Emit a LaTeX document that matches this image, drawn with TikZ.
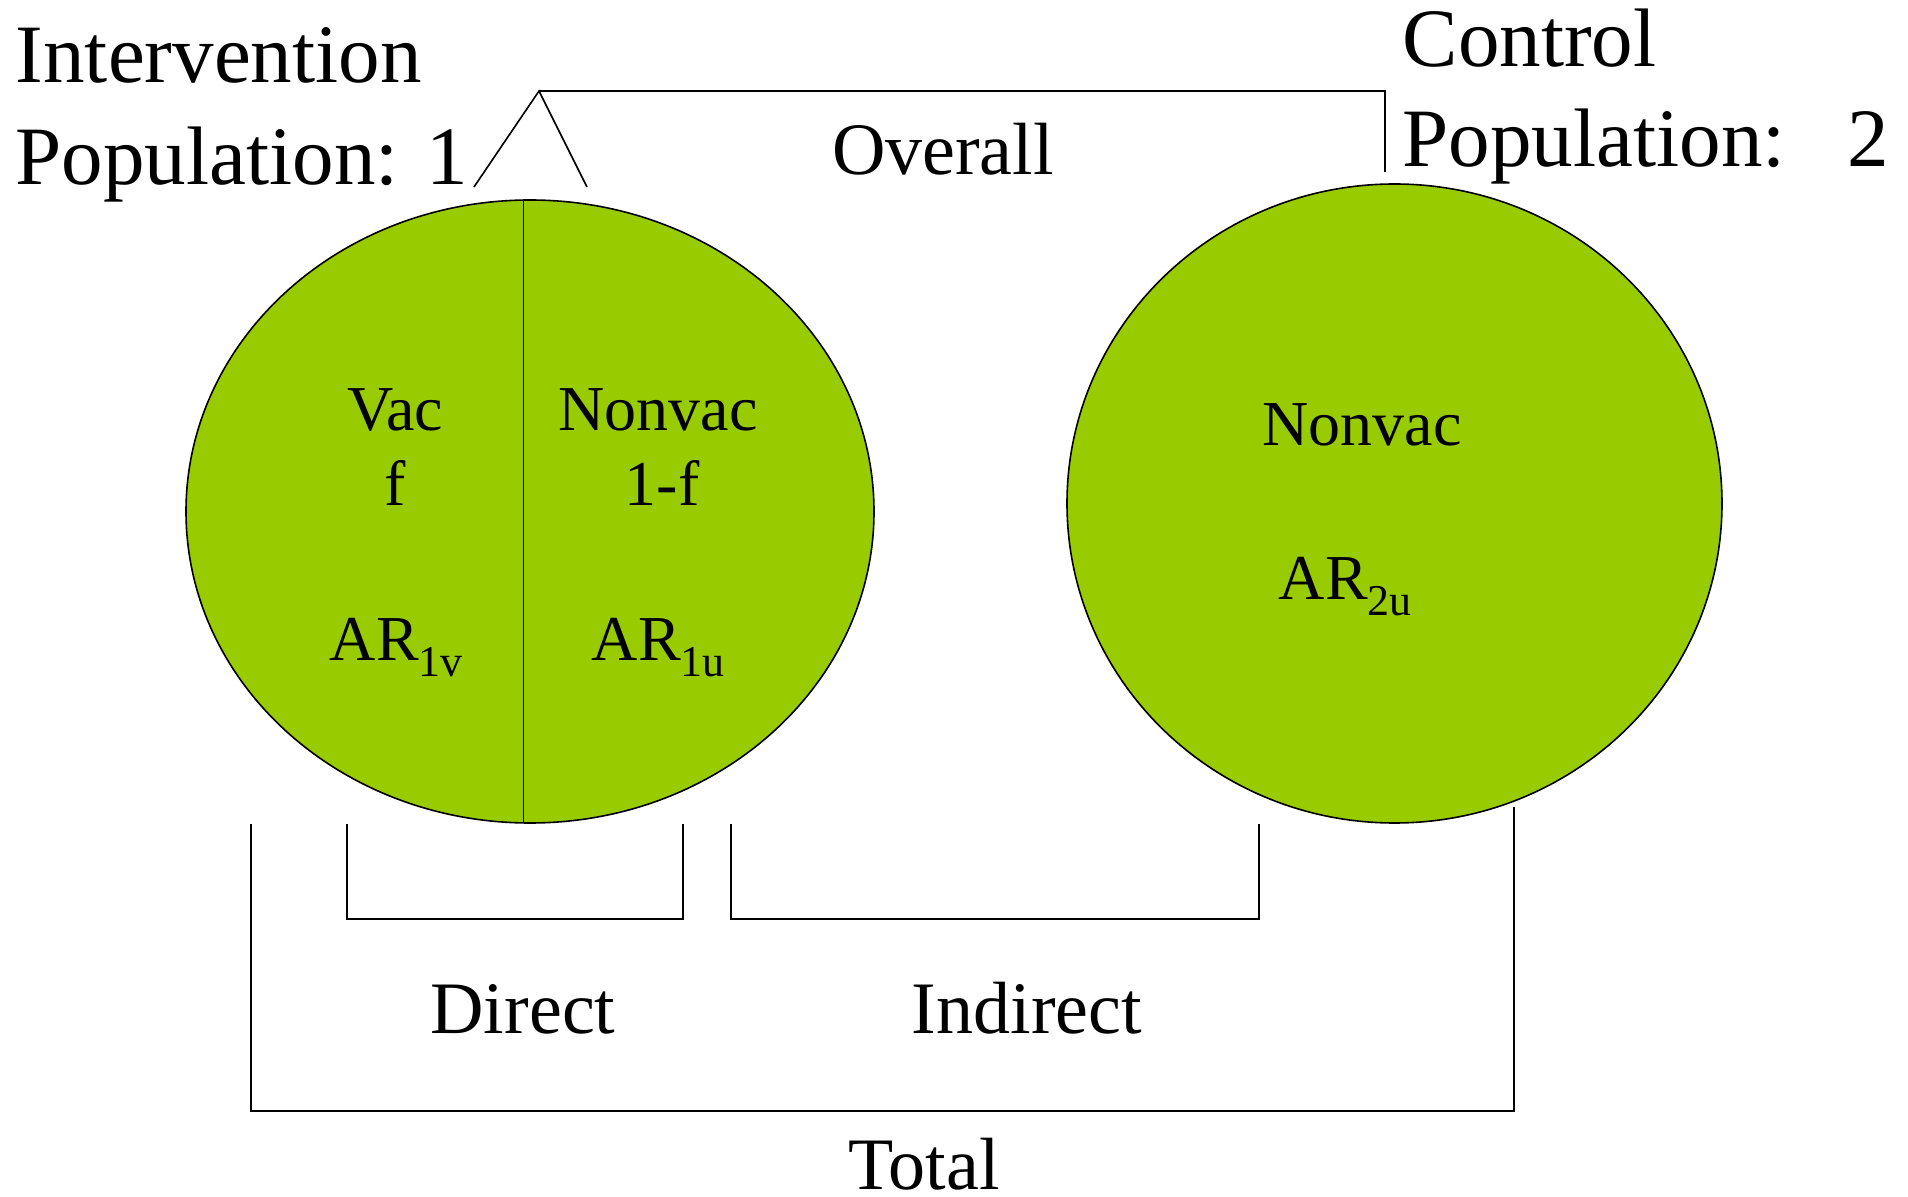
\documentclass[tikz,border=0pt]{standalone}
\usepackage{fontspec}
\setmainfont{Liberation Serif}
\usetikzlibrary{shapes.geometric}
\definecolor{popgreen}{HTML}{99CC00}
\newcommand{\subtxt}[1]{\raisebox{-8pt}{\fontsize{22}{22}\selectfont #1}}
\begin{document}
\begin{tikzpicture}[x=0.5pt,y=-0.5pt, line width=0.8pt,
  pop/.style={ellipse, draw=black, fill=popgreen, inner sep=0pt, line width=0.8pt},
  big/.style={inner sep=0pt, font=\fontsize{41.5}{50}\selectfont},
  mid/.style={inner sep=0pt, font=\fontsize{37}{44}\selectfont},
  small/.style={inner sep=0pt, font=\fontsize{32}{38}\selectfont},
  bracket/.style={draw=black, line width=0.8pt}]
\useasboundingbox (0,0) rectangle (1908,1197);

% populations
\node[pop, minimum width=344pt, minimum height=311.5pt] (P1) at (530,511.5) {};
\node[pop, minimum width=327.5pt, minimum height=319.5pt] (P2) at (1394.5,503.5) {};
\coordinate (d1) at (523.5,199.5);
\coordinate (d2) at (523.5,823.5);
\draw[bracket] (d1) -- (d2);

% titles
\node[big, anchor=base west] (int) at (15,83) {Intervention};
\node[big, anchor=base west] (pop1) at (15,185) {Population: 1};
\node[big, anchor=base west] (ctl) at (1402,67) {Control};
\node[big, anchor=base west] (pop2) at (1402,167) {Population:\hspace{0.75em}2};
\node[mid, anchor=base] (ovr) at (943,175) {Overall};

% inner texts
\node[small, anchor=base] (vac) at (395,431) {Vac};
\node[small, anchor=base] (vf) at (395,506) {f};
\node[small, anchor=base] (nv1) at (658,431) {Nonvac};
\node[small, anchor=base] (nvf) at (662,506) {1-f};
\node[small, anchor=base west] (ar1v) at (329,661) {AR\subtxt{1v}};
\node[small, anchor=base west] (ar1u) at (591,661) {AR\subtxt{1u}};
\node[small, anchor=base] (nv2) at (1362,446) {Nonvac};
\node[small, anchor=base west] (ar2u) at (1278,600) {AR\subtxt{2u}};

% bottom labels
\node[mid, anchor=base] (dir) at (523,1033) {Direct};
\node[mid, anchor=base] (ind) at (1027,1033) {Indirect};
\node[mid, anchor=base] (tot) at (924,1189) {Total};

% overall bracket
\coordinate (tl) at (474,187);
\coordinate (tp) at (539,91);
\coordinate (tr) at (587,187);
\coordinate (tc) at (1385,91);
\coordinate (te) at (1385,172);
\draw[bracket] (tl) -- (tp) -- (tr);
\draw[bracket] (tp) -- (tc) -- (te);

% direct bracket
\coordinate (da) at (347,824);
\coordinate (db) at (347,919);
\coordinate (dc) at (683,919);
\coordinate (dd) at (683,824);
\draw[bracket] (da) -- (db) -- (dc) -- (dd);

% indirect bracket
\coordinate (ia) at (731,824);
\coordinate (ib) at (731,919);
\coordinate (ic) at (1259,919);
\coordinate (id) at (1259,824);
\draw[bracket] (ia) -- (ib) -- (ic) -- (id);

% total bracket
\coordinate (ta) at (251,824);
\coordinate (tb) at (251,1111);
\coordinate (tcc) at (1514,1111);
\coordinate (td) at (1514,807);
\draw[bracket] (ta) -- (tb) -- (tcc) -- (td);
\end{tikzpicture}
\end{document}
